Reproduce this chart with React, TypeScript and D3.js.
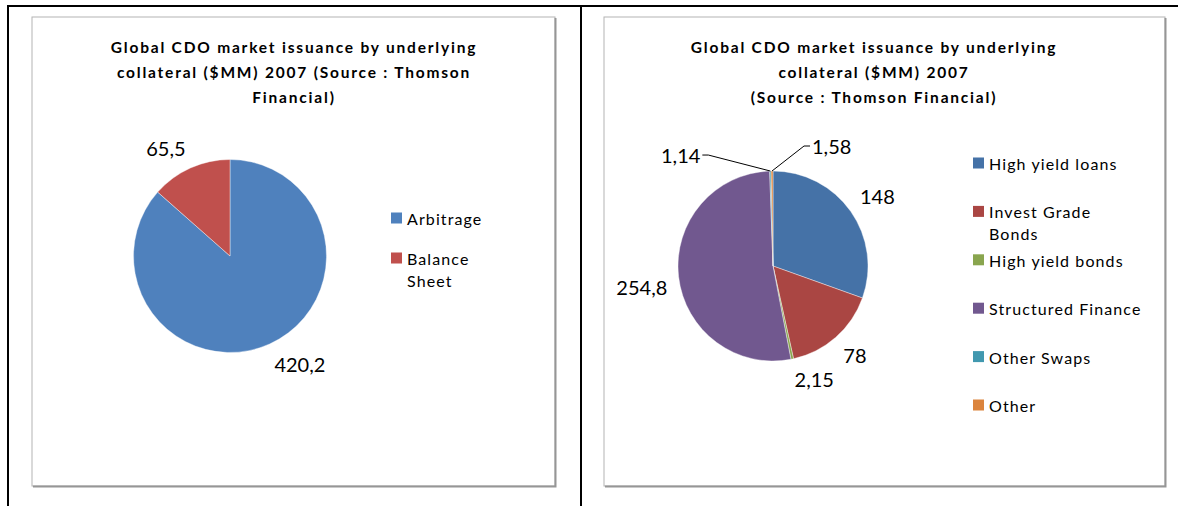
import { useEffect, useRef } from 'react'
import { select, pie, arc, scalePoint } from 'd3'

// left chart: by deal type
const arbCategories = ['Arbitrage', 'Balance Sheet']
const arbValues = [420.2, 65.5]
const arbLabels = ['420,2', '65,5']
const arbColors = ['#4F81BD', '#C0504D']
const arbTitle = ['Global CDO market issuance by underlying', 'collateral ($MM) 2007 (Source : Thomson', 'Financial)']
const arbLegendLines = [['Arbitrage'], ['Balance', 'Sheet']]

// right chart: by collateral
const collCategories = ['High yield loans', 'Invest Grade Bonds', 'High yield bonds', 'Structured Finance', 'Other Swaps', 'Other']
const collValues = [148, 78, 2.15, 254.8, 1.14, 1.58]
const collLabels = ['148', '78', '2,15', '254,8', '1,14', '1,58']
const collColors = ['#4572A7', '#AA4643', '#89A54E', '#71588F', '#4198AF', '#DB843D']
const collTitle = ['Global CDO market issuance by underlying', 'collateral ($MM) 2007', '(Source : Thomson Financial)']
const collLegendLines = [['High yield loans'], ['Invest Grade', 'Bonds'], ['High yield bonds'], ['Structured Finance'], ['Other Swaps'], ['Other']]

const FONT = "Lato, 'Open Sans', sans-serif"

const charts = [
  {
    values: arbValues, labels: arbLabels, colors: arbColors, title: arbTitle, legend: arbLegendLines,
    box: { x: 32, y: 17, w: 523, h: 469 },
    titleX: 294,
    cx: 230, cy: 256, r: 96.5,
    legendX: 391, legendY: [218, 258],
    leaders: {},
  },
  {
    values: collValues, labels: collLabels, colors: collColors, title: collTitle, legend: collLegendLines,
    box: { x: 604, y: 17, w: 561, h: 469 },
    titleX: 874,
    cx: 773, cy: 266, r: 95,
    legendX: 973, legendY: [163, 405],
    // small slices get pulled-out labels with a leader line
    leaders: { 4: { dx: -70, dy: -16, anchor: 'end' }, 5: { dx: 40, dy: -25, anchor: 'start' } },
  },
]

const App = () => {
  const svgRef = useRef(null)

  useEffect(() => {
    const svg = select(svgRef.current)
    svg.selectAll('*').remove()

    // table frame
    svg.append('line').attr('x1', 7).attr('x2', 1178).attr('y1', 6).attr('y2', 6).attr('stroke', '#000').attr('stroke-width', 2)
    svg.append('line').attr('x1', 8).attr('x2', 8).attr('y1', 5).attr('y2', 506).attr('stroke', '#000').attr('stroke-width', 2)
    svg.append('line').attr('x1', 581).attr('x2', 581).attr('y1', 5).attr('y2', 506).attr('stroke', '#000').attr('stroke-width', 2)

    charts.forEach(c => {
      const g = svg.append('g')
      const { x, y, w, h } = c.box

      g.append('rect').attr('x', x).attr('y', y).attr('width', w).attr('height', h)
        .attr('fill', '#fff').attr('stroke', '#b4b4b4').attr('stroke-width', 1)
      g.append('path').attr('d', `M${x + 1},${y + h + 0.5}H${x + w + 0.5}V${y + 1}`)
        .attr('fill', 'none').attr('stroke', '#969696').attr('stroke-width', 2)

      g.selectAll('.title').data(c.title).join('text')
        .attr('class', 'title')
        .attr('x', c.titleX)
        .attr('y', (d, i) => 47 + i * 25)
        .attr('text-anchor', 'middle')
        .attr('dominant-baseline', 'central')
        .attr('font-family', FONT)
        .attr('font-weight', 'bold')
        .attr('font-size', 15.5)
        .attr('letter-spacing', 1.8)
        .attr('fill', '#000')
        .text(d => d)

      const arcs = pie().sort(null).value(d => d)(c.values)
      const arcGen = arc().innerRadius(0).outerRadius(c.r)

      const pg = g.append('g').attr('transform', `translate(${c.cx},${c.cy})`)
      pg.selectAll('path').data(arcs).join('path')
        .attr('d', arcGen)
        .attr('fill', (d, i) => c.colors[i])
        .attr('stroke', '#fff')
        .attr('stroke-width', 0.4)

      arcs.forEach((a, i) => {
        const mid = (a.startAngle + a.endAngle) / 2
        const dx = Math.sin(mid)
        const dy = -Math.cos(mid)
        const lead = c.leaders[i]
        if (lead) {
          const ex = dx * c.r
          const ey = dy * c.r
          const lx = ex + lead.dx
          const ly = ey + lead.dy
          const s = lead.anchor === 'end' ? 1 : -1
          pg.append('polyline')
            .attr('points', `${lx + s * 2},${ly} ${lx + s * 8},${ly} ${ex},${ey}`)
            .attr('fill', 'none').attr('stroke', '#000').attr('stroke-width', 1)
          pg.append('text')
            .attr('x', lx).attr('y', ly)
            .attr('text-anchor', lead.anchor)
            .attr('dominant-baseline', 'central')
            .attr('font-family', FONT).attr('font-size', 20).attr('fill', '#000')
            .text(c.labels[i])
          return
        }
        const t = pg.append('text')
          .attr('dominant-baseline', 'central')
          .attr('text-anchor', 'middle')
          .attr('font-family', FONT).attr('font-size', 20).attr('fill', '#000')
          .text(c.labels[i])
        const tw = t.node().getComputedTextLength()
        const rr = c.r * 1.12
        t.attr('x', dx * rr + Math.sign(dx) * tw / 2)
          .attr('y', dy * rr + Math.sign(dy) * 9)
      })

      const ly = scalePoint().domain(c.legend.map((d, i) => i)).range(c.legendY)
      const lg = g.selectAll('.leg').data(c.legend).join('g').attr('class', 'leg')
        .attr('transform', (d, i) => `translate(${c.legendX},${ly(i)})`)
      lg.append('rect').attr('x', 0).attr('y', -5.5).attr('width', 11).attr('height', 11)
        .attr('fill', (d, i) => c.colors[i])
      lg.append('text')
        .attr('x', 16)
        .attr('font-family', FONT).attr('font-size', 16).attr('letter-spacing', 1.1).attr('fill', '#000')
        .attr('dominant-baseline', 'central')
        .selectAll('tspan').data(d => d).join('tspan')
        .attr('x', 16).attr('y', (d, i) => i * 22)
        .text(d => d)
    })
  }, [])

  return (
    <div style={{ position: 'absolute', left: 0, top: 0 }}>
      <svg ref={svgRef} width={1178} height={506} style={{ display: 'block', background: '#fff' }} />
    </div>
  )
}

export default App
